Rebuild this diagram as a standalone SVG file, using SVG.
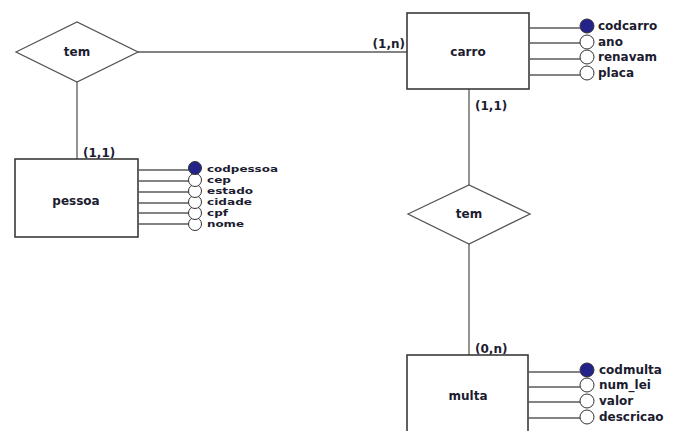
<svg xmlns="http://www.w3.org/2000/svg" width="674" height="431" viewBox="0 0 674 431">
<style>
text{font-family:"DejaVu Sans","Liberation Sans",sans-serif;font-weight:bold;font-size:12px;fill:#1c1c30}
.lbl{text-anchor:middle;dominant-baseline:central}
.att{dominant-baseline:central}
.sq{font-size:9.4px}
.ent{fill:#fff;stroke:#3a3a3a;stroke-width:1.6}
.rel{fill:#fff;stroke:#555;stroke-width:1.3}
.ln{stroke:#5a5a5a;stroke-width:1.3;fill:none}
.pk{fill:#23238a;stroke:#333;stroke-width:1}
.ak{fill:#fff;stroke:#333;stroke-width:1}
</style>
<rect width="674" height="431" fill="#fff"/>
<g id="connectors">
<line class="ln" x1="138" y1="52" x2="407" y2="52"/>
<line class="ln" x1="77" y1="82" x2="77" y2="159"/>
<line class="ln" x1="469" y1="89" x2="469" y2="185"/>
<line class="ln" x1="469" y1="244" x2="469" y2="355"/>
<text x="405" y="48" text-anchor="end">(1,n)</text>
<text x="83" y="157">(1,1)</text>
<text x="475" y="110">(1,1)</text>
<text x="475" y="353">(0,n)</text>
</g>
<g id="rel-tem1">
<polygon class="rel" points="16,52 77,22 138,52 77,82"/>
<text class="lbl" x="77" y="52">tem</text>
</g>
<g id="rel-tem2">
<polygon class="rel" points="408,214 469,185 530,214 469,244"/>
<text class="lbl" x="469" y="214">tem</text>
</g>
<g id="carro">
<rect class="ent" x="407" y="13" width="122" height="76"/>
<text class="lbl" x="468" y="52">carro</text>
<g class="attrs">
<line class="ln" x1="529" y1="28" x2="580" y2="28"/>
<line class="ln" x1="529" y1="43" x2="580" y2="43"/>
<line class="ln" x1="529" y1="59" x2="580" y2="59"/>
<line class="ln" x1="529" y1="75" x2="580" y2="75"/>
<circle class="ak" cx="587" cy="73" r="7"/>
<circle class="ak" cx="587" cy="57" r="7"/>
<circle class="ak" cx="587" cy="42" r="7"/>
<circle class="pk" cx="587" cy="26" r="7"/>
<text class="att" x="598" y="26">codcarro</text>
<text class="att" x="598" y="42">ano</text>
<text class="att" x="598" y="57">renavam</text>
<text class="att" x="598" y="73">placa</text>
</g>
</g>
<g id="pessoa">
<rect class="ent" x="15" y="159" width="123" height="78"/>
<text class="lbl" x="76" y="201">pessoa</text>
<g class="attrs">
<line class="ln" x1="138" y1="170" x2="189" y2="170"/>
<line class="ln" x1="138" y1="181" x2="189" y2="181"/>
<line class="ln" x1="138" y1="192" x2="189" y2="192"/>
<line class="ln" x1="138" y1="203" x2="189" y2="203"/>
<line class="ln" x1="138" y1="213" x2="189" y2="213"/>
<line class="ln" x1="138" y1="224" x2="189" y2="224"/>
<circle class="ak" cx="195" cy="224" r="6.5"/>
<circle class="ak" cx="195" cy="213" r="6.5"/>
<circle class="ak" cx="195" cy="202" r="6.5"/>
<circle class="ak" cx="195" cy="191" r="6.5"/>
<circle class="ak" cx="195" cy="180" r="6.5"/>
<circle class="pk" cx="195" cy="168" r="6.5"/>
<text class="att sq" x="207" y="168" textLength="71" lengthAdjust="spacingAndGlyphs">codpessoa</text>
<text class="att sq" x="207" y="179" textLength="24" lengthAdjust="spacingAndGlyphs">cep</text>
<text class="att sq" x="207" y="190" textLength="46" lengthAdjust="spacingAndGlyphs">estado</text>
<text class="att sq" x="207" y="201" textLength="45" lengthAdjust="spacingAndGlyphs">cidade</text>
<text class="att sq" x="207" y="212" textLength="21" lengthAdjust="spacingAndGlyphs">cpf</text>
<text class="att sq" x="207" y="223" textLength="37" lengthAdjust="spacingAndGlyphs">nome</text>
</g>
</g>
<g id="multa">
<rect class="ent" x="407" y="355" width="121" height="90"/>
<text class="lbl" x="468" y="396">multa</text>
<g class="attrs">
<line class="ln" x1="528" y1="372" x2="580" y2="372"/>
<line class="ln" x1="528" y1="387" x2="580" y2="387"/>
<line class="ln" x1="528" y1="402" x2="580" y2="402"/>
<line class="ln" x1="528" y1="418" x2="580" y2="418"/>
<circle class="ak" cx="587" cy="417" r="7"/>
<circle class="ak" cx="587" cy="401" r="7"/>
<circle class="ak" cx="587" cy="385" r="7"/>
<circle class="pk" cx="587" cy="370" r="7"/>
<text class="att" x="599" y="370">codmulta</text>
<text class="att" x="599" y="385">num_lei</text>
<text class="att" x="599" y="401">valor</text>
<text class="att" x="599" y="417">descricao</text>
</g>
</g>
</svg>
